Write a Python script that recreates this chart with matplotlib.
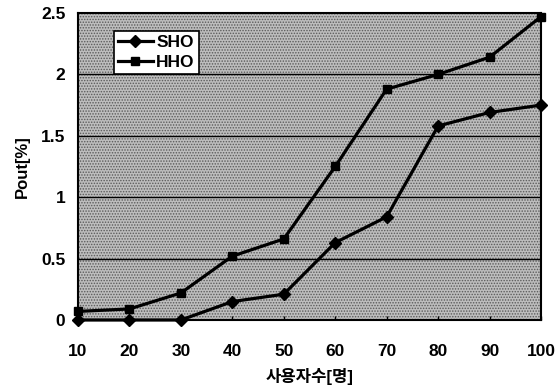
import matplotlib
matplotlib.use('Agg')
import matplotlib.pyplot as plt

plt.rcParams['font.family'] = ['Liberation Sans', 'Noto Sans CJK KR']
plt.rcParams['font.weight'] = 'bold'
plt.rcParams['hatch.color'] = '#555555'
plt.rcParams['hatch.linewidth'] = 0.7

# data
users = [10, 20, 30, 40, 50, 60, 70, 80, 90, 100]
sho = [0.0, 0.0, 0.0, 0.15, 0.21, 0.63, 0.84, 1.58, 1.69, 1.75]
hho = [0.07, 0.09, 0.22, 0.52, 0.66, 1.25, 1.88, 2.0, 2.14, 2.47]
y_ticks = [0, 0.5, 1, 1.5, 2, 2.5]
y_labels = ['0', '0.5', '1', '1.5', '2', '2.5']

fig = plt.figure(figsize=(5.57, 3.87), dpi=100)
ax = fig.add_axes([78 / 557, 1 - 320 / 387, (541 - 78) / 557, (320 - 13) / 387])

ax.set_facecolor('#bdbdbd')
ax.add_patch(plt.Rectangle((0, 0), 1, 1, transform=ax.transAxes, facecolor='none',
                           hatch='......', edgecolor='#5a5a5a', lw=0, zorder=0))

for y in y_ticks[1:-1]:
    ax.axhline(y, color='black', lw=1.0, zorder=1)

ax.plot(users, sho, color='black', lw=2.3, marker='D', ms=6, label='SHO', zorder=3, clip_on=False)
ax.plot(users, hho, color='black', lw=2.3, marker='s', ms=6, label='HHO', zorder=3, clip_on=False)

ax.set_xlim(10, 100)
ax.set_ylim(0, 2.5)
ax.set_xticks(users)
ax.set_yticks(y_ticks)
ax.set_yticklabels(y_labels)
ax.tick_params(axis='x', direction='in', length=3, width=1, labelsize=12.5, pad=17)
ax.tick_params(axis='y', length=0, labelsize=12.5, pad=9)
for s in ax.spines.values():
    s.set_linewidth(1.5)

ax.set_xlabel('사용자수[명]', fontsize=12, fontweight='bold', labelpad=7)
ax.set_ylabel('Pout[%]', fontsize=12, fontweight='bold', labelpad=8)

leg = ax.legend(loc='upper left', bbox_to_anchor=(0.058, 0.97), fontsize=12.5,
                frameon=True, fancybox=False, framealpha=1, edgecolor='black',
                handlelength=2.0, handletextpad=0.2, borderpad=0.25, labelspacing=0.25)
leg.get_frame().set_linewidth(1.2)

fig.savefig('out.png', dpi=100)
